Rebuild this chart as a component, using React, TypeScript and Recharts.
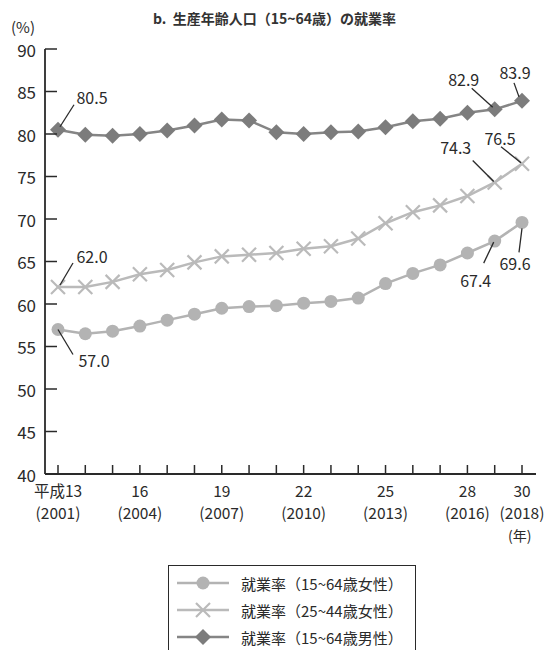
import React from "react";
import { LineChart, Line, XAxis, YAxis, LabelList } from "recharts";

const years = [
  "2001", "2002", "2003", "2004", "2005", "2006", "2007", "2008", "2009",
  "2010", "2011", "2012", "2013", "2014", "2015", "2016", "2017", "2018",
];
const eraLabels: Record<string, string> = {
  "2001": "平成13",
  "2004": "16",
  "2007": "19",
  "2010": "22",
  "2013": "25",
  "2016": "28",
  "2018": "30",
};
const women1564 = [
  57.0, 56.5, 56.8, 57.4, 58.1, 58.8, 59.5, 59.7, 59.8,
  60.1, 60.3, 60.7, 62.4, 63.6, 64.6, 66.0, 67.4, 69.6,
];
const women2544 = [
  62.0, 62.0, 62.6, 63.5, 64.0, 64.9, 65.6, 65.8, 66.0,
  66.5, 66.8, 67.7, 69.5, 70.8, 71.6, 72.7, 74.3, 76.5,
];
const men1564 = [
  80.5, 79.9, 79.8, 80.0, 80.4, 81.0, 81.7, 81.6, 80.2,
  80.0, 80.2, 80.3, 80.8, 81.5, 81.8, 82.5, 82.9, 83.9,
];
const yTicks = [40, 45, 50, 55, 60, 65, 70, 75, 80, 85, 90];
const seriesNames = [
  "就業率（15~64歳女性）",
  "就業率（25~44歳女性）",
  "就業率（15~64歳男性）",
];

const data = years.map((year, i) => ({
  year,
  w1564: women1564[i],
  w2544: women2544[i],
  m1564: men1564[i],
}));

const FONT = '"Noto Sans CJK JP", "Noto Sans", sans-serif';
const INK = "#2a2a2a";

// leader-line callouts, offsets relative to the point (px)
type Note = { sx: number; sy: number; ex: number; ey: number; tx: number; ty: number };
const menNotes: Record<number, Note> = {
  0: { sx: 2, sy: -3, ex: 16, ey: -25, tx: 34, ty: -33 },
  16: { sx: -2, sy: -2, ex: -23, ey: -21, tx: -31, ty: -30 },
  17: { sx: -3, sy: -4, ex: -8, ey: -18, tx: -7, ty: -29 },
};
const w2544Notes: Record<number, Note> = {
  0: { sx: 2, sy: -2, ex: 15, ey: -24, tx: 34, ty: -31 },
  16: { sx: -1, sy: -1, ex: -22, ey: -22, tx: -39, ty: -35 },
  17: { sx: -1, sy: -1, ex: -21, ey: -17, tx: -22, ty: -26 },
};
const w1564Notes: Record<number, Note> = {
  0: { sx: 0, sy: 0, ex: 15, ey: 25, tx: 36, ty: 30 },
  16: { sx: -1, sy: 1, ex: -11, ey: 22, tx: -19, ty: 39 },
  17: { sx: 0, sy: 6, ex: -3, ey: 30, tx: -7, ty: 41 },
};

const callout = (notes: Record<number, Note>) => (props: any) => {
  const { x, y, value, index } = props;
  const n = notes[index];
  if (!n || x == null || y == null) return null;
  return (
    <g>
      <line x1={x + n.sx} y1={y + n.sy} x2={x + n.ex} y2={y + n.ey} stroke={INK} strokeWidth={1.3} />
      <text
        x={x + n.tx}
        y={y + n.ty}
        textAnchor="middle"
        dominantBaseline="central"
        fontSize={16}
        fontFamily={FONT}
        fill={INK}
      >
        {Number(value).toFixed(1)}
      </text>
    </g>
  );
};

const CIRCLE = "#b3b3b3";
const CROSS = "#bababa";
const DIAMOND = "#7c7c7c";

function CircleMark({ cx, cy }: { cx: number; cy: number }) {
  return <circle cx={cx} cy={cy} r={6.5} fill={CIRCLE} />;
}
function CrossMark({ cx, cy }: { cx: number; cy: number }) {
  const s = 7;
  return (
    <g stroke={CROSS} strokeWidth={2.2}>
      <line x1={cx - s} y1={cy - s} x2={cx + s} y2={cy + s} />
      <line x1={cx - s} y1={cy + s} x2={cx + s} y2={cy - s} />
    </g>
  );
}
function DiamondMark({ cx, cy }: { cx: number; cy: number }) {
  const s = 8;
  return (
    <polygon
      points={`${cx},${cy - s} ${cx + s},${cy} ${cx},${cy + s} ${cx - s},${cy}`}
      fill={DIAMOND}
    />
  );
}

const dotOf = (Mark: any) => (props: any) =>
  props.cx == null ? <g key={props.index} /> : <Mark key={props.index} cx={props.cx} cy={props.cy} />;

function YTick(props: any) {
  const { x, y, payload } = props;
  return (
    <g>
      <line x1={x} y1={y} x2={x + 12} y2={y} stroke={INK} strokeWidth={1.5} />
      <text x={x - 9} y={y} textAnchor="end" dominantBaseline="central" fontSize={17} fontFamily={FONT} fill={INK}>
        {payload.value}
      </text>
    </g>
  );
}

function XTick(props: any) {
  const { x, y, payload } = props;
  const era = eraLabels[payload.value];
  return (
    <g>
      <line x1={x} y1={y} x2={x} y2={y - 9} stroke={INK} strokeWidth={1.5} />
      {era && (
        <text x={x} y={y + 23} textAnchor="middle" fontSize={15.5} fontFamily={FONT} fill={INK}>
          {era}
        </text>
      )}
      {era && (
        <text x={x} y={y + 45} textAnchor="middle" fontSize={15.5} fontFamily={FONT} fill={INK}>
          ({payload.value})
        </text>
      )}
    </g>
  );
}

const marks = [CircleMark, CrossMark, DiamondMark];
const lineColors = [CIRCLE, CROSS, "#858585"];

function LegendBox() {
  return (
    <div
      style={{
        position: "absolute",
        left: 168,
        top: 565,
        width: 248,
        height: 100,
        border: `1.5px solid ${INK}`,
        boxSizing: "border-box",
        fontFamily: FONT,
        fontSize: 15,
        color: INK,
      }}
    >
      {seriesNames.map((name, i) => {
        const Mark = marks[i];
        return (
          <div key={name} style={{ position: "absolute", left: 6, top: 6 + i * 27, height: 22, display: "flex", alignItems: "center" }}>
            <svg width={56} height={22}>
              <line x1={2} y1={11} x2={54} y2={11} stroke={lineColors[i]} strokeWidth={2.5} />
              <Mark cx={28} cy={11} />
            </svg>
            <span style={{ marginLeft: 10, whiteSpace: "nowrap" }}>{name}</span>
          </div>
        );
      })}
    </div>
  );
}

export default function App() {
  return (
    <div style={{ position: "absolute", left: 0, top: 0, width: 549, height: 650, background: "#fff", overflow: "hidden" }}>
      <div
        style={{
          position: "absolute",
          left: 0,
          width: 549,
          top: 8,
          textAlign: "center",
          fontFamily: FONT,
          fontSize: 14,
          fontWeight: "bold",
          color: "#333",
        }}
      >
        b.&nbsp;&nbsp;生産年齢人口（15~64歳）の就業率
      </div>
      <div style={{ position: "absolute", left: 11, top: 16, fontFamily: FONT, fontSize: 15, color: INK }}>(%)</div>
      <div style={{ position: "absolute", left: 508, top: 525, fontFamily: FONT, fontSize: 14, color: INK }}>(年)</div>
      <LineChart
        width={549}
        height={650}
        data={data}
        margin={{ top: 49, right: 13, left: 5, bottom: 146 }}
        style={{ position: "absolute", left: 0, top: 0 }}
      >
        <XAxis
          dataKey="year"
          interval={0}
          height={30}
          padding={{ left: 13, right: 14 }}
          tickSize={0}
          tickMargin={0}
          tickLine={false}
          tick={<XTick />}
          axisLine={{ stroke: INK, strokeWidth: 1.8 }}
        />
        <XAxis
          xAxisId="top"
          orientation="top"
          dataKey="year"
          height={0}
          tick={false}
          tickLine={false}
          axisLine={{ stroke: INK, strokeWidth: 1.8 }}
        />
        <YAxis
          domain={[40, 90]}
          ticks={yTicks}
          interval={0}
          width={40}
          tickSize={0}
          tickMargin={0}
          tickLine={false}
          tick={<YTick />}
          axisLine={{ stroke: INK, strokeWidth: 1.8 }}
        />
        <YAxis
          yAxisId="right"
          orientation="right"
          domain={[40, 90]}
          width={0}
          tick={false}
          tickLine={false}
          axisLine={{ stroke: INK, strokeWidth: 1.8 }}
        />
        <Line
          dataKey="w1564"
          name={seriesNames[0]}
          stroke={CIRCLE}
          strokeWidth={2.5}
          dot={dotOf(CircleMark)}
          isAnimationActive={false}
        >
          <LabelList dataKey="w1564" content={callout(w1564Notes)} />
        </Line>
        <Line
          dataKey="w2544"
          name={seriesNames[1]}
          stroke={CROSS}
          strokeWidth={2.5}
          dot={dotOf(CrossMark)}
          isAnimationActive={false}
        >
          <LabelList dataKey="w2544" content={callout(w2544Notes)} />
        </Line>
        <Line
          dataKey="m1564"
          name={seriesNames[2]}
          stroke="#858585"
          strokeWidth={2.5}
          dot={dotOf(DiamondMark)}
          isAnimationActive={false}
        >
          <LabelList dataKey="m1564" content={callout(menNotes)} />
        </Line>
      </LineChart>
      <LegendBox />
    </div>
  );
}
